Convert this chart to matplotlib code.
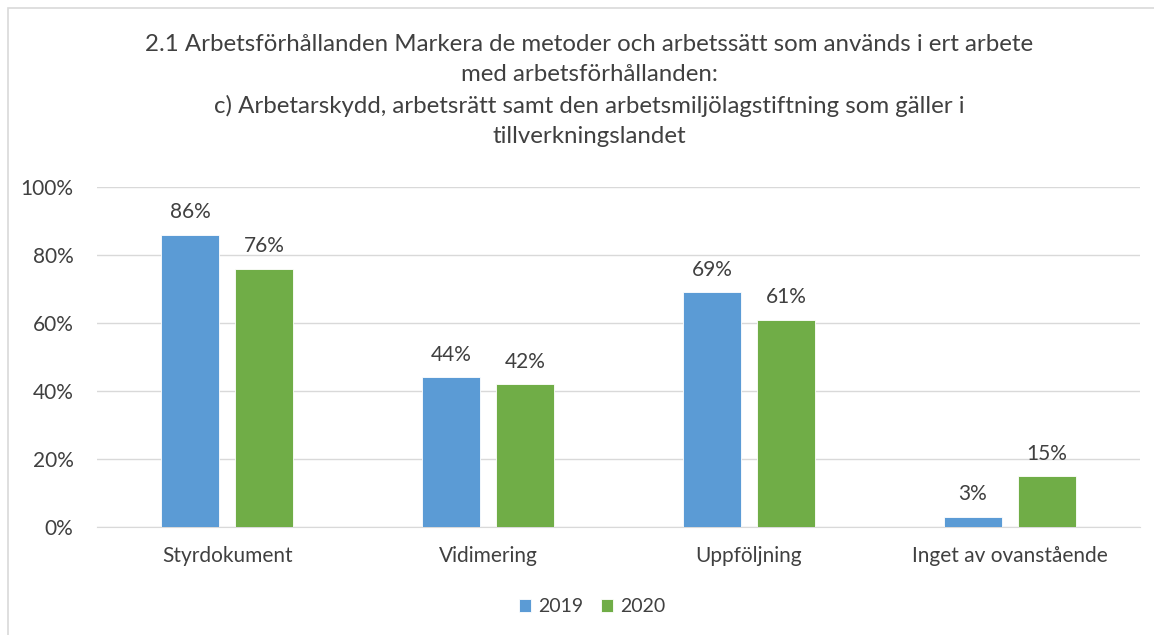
import matplotlib
matplotlib.use("Agg")
import matplotlib.pyplot as plt
import numpy as np

categories = ["Styrdokument", "Vidimering", "Uppföljning", "Inget av ovanstående"]
series_names = ["2019", "2020"]
values_2019 = [86, 44, 69, 3]
values_2020 = [76, 42, 61, 15]
yticks = [0, 20, 40, 60, 80, 100]
title = ("2.1 Arbetsförhållanden Markera de metoder och arbetssätt som används i ert arbete\n"
         "med arbetsförhållanden:\n"
         "c) Arbetarskydd, arbetsrätt samt den arbetsmiljölagstiftning som gäller i\n"
         "tillverkningslandet")

plt.rcParams['font.family'] = ['Lato', 'DejaVu Sans']

fig = plt.figure(figsize=(11.54, 6.35), dpi=100)
ax = fig.add_axes([97/1154, 1-527/635, (1140-97)/1154, (527-187)/635])

x = np.arange(len(categories))
w = 0.222
off = 0.142
colors = ["#5B9BD5", "#70AD47"]
b1 = ax.bar(x - off, values_2019, w, color=colors[0], label=series_names[0], zorder=3,
            edgecolor="white", linewidth=0.6)
b2 = ax.bar(x + off, values_2020, w, color=colors[1], label=series_names[1], zorder=3,
            edgecolor="white", linewidth=0.6)
for bars, vals in ((b1, values_2019), (b2, values_2020)):
    for rect, v in zip(bars, vals):
        ax.annotate(f"{v}%", (rect.get_x() + rect.get_width()/2, v),
                    xytext=(0, 9), textcoords="offset points",
                    ha="center", va="bottom", fontsize=15, color="#404040")

ax.set_xlim(-0.5, len(categories) - 0.5)
ax.set_ylim(0, 100)
ax.set_yticks(yticks)
ax.set_yticklabels([f"{t}%" for t in yticks])
ax.set_xticks(x)
ax.set_xticklabels(categories)
ax.tick_params(axis="both", length=0, labelsize=15, labelcolor="#404040")
ax.tick_params(axis="y", pad=17)
ax.tick_params(axis="x", pad=14)
ax.grid(axis="y", color="#D9D9D9", linewidth=1, zorder=0)
for s in ["top", "right", "left"]:
    ax.spines[s].set_visible(False)
ax.spines["bottom"].set_color("#D9D9D9")

fig.text(589/1154, 1-34/635, title, ha="center", va="top", fontsize=17.3,
         color="#404040", linespacing=1.53)

ax.legend(loc="center", bbox_to_anchor=(592/1154, 1-607/635), bbox_transform=fig.transFigure,
          ncol=2, frameon=False, fontsize=14, handlelength=0.62, handleheight=0.62,
          columnspacing=0.9, handletextpad=0.36, labelcolor="#404040")

# outer border (top and left visible)
fig.add_artist(plt.Rectangle((8/1154, -0.1), 1.2, 1 - 8/635 + 0.1, transform=fig.transFigure,
                             fill=False, edgecolor="#D9D9D9", linewidth=1.2, clip_on=False))

fig.savefig("out.png", dpi=100)
